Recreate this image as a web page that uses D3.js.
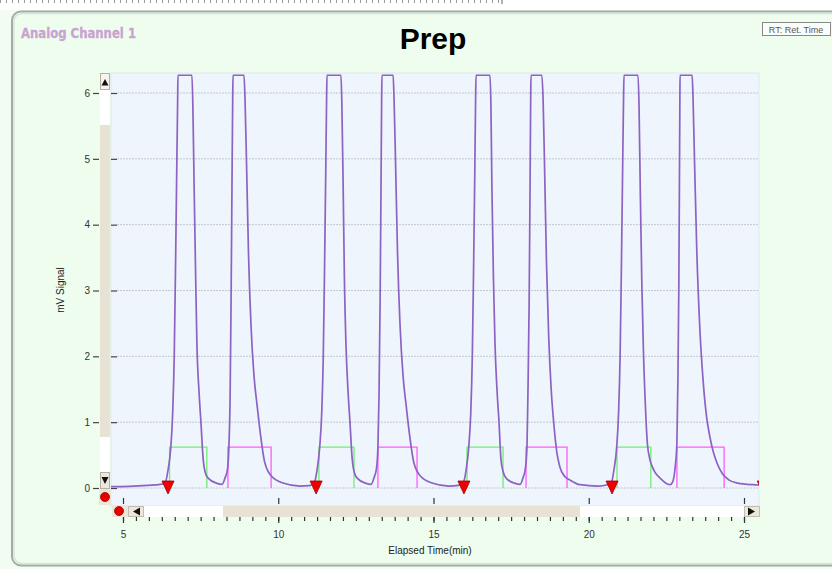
<!DOCTYPE html>
<html>
<head>
<meta charset="utf-8">
<script src="https://cdn.jsdelivr.net/npm/d3@7/dist/d3.min.js"></script>
<style>
  html, body { margin: 0; padding: 0; background: #f3fcf3; }
  svg { display: block; font-family: "Liberation Sans", Arial, sans-serif; }
</style>
</head>
<body>
<svg id="chart" width="832" height="569"></svg>
<script>
// Detector trace: [elapsed time (min), signal (mV)]
const signal = [
  [4.60,0.02],[5.20,0.025],[5.80,0.04],[6.20,0.055],
  [6.35,0.07],[6.45,0.27],[6.54,0.62],[6.60,1.14],[6.65,2.0],[6.69,3.3],[6.73,4.8],[6.76,5.9],[6.77,6.27],[7.22,6.27],
  [7.25,5.8],[7.29,4.6],[7.34,3.2],[7.38,2.2],[7.45,1.45],[7.51,1.0],[7.58,0.45],[7.64,0.25],[7.74,0.15],[8.03,0.07],[8.19,0.055],
  [8.285,0.15],[8.37,0.3],[8.41,0.62],[8.45,1.4],[8.48,2.8],[8.51,4.6],[8.533,5.9],[8.543,6.27],[8.897,6.27],
  [8.93,5.9],[8.98,4.9],[9.04,3.6],[9.12,2.5],[9.22,1.7],[9.32,1.25],[9.41,0.88],[9.57,0.38],[9.80,0.17],[10.15,0.076],[10.70,0.03],
  [11.00,0.035],
  [11.15,0.07],[11.25,0.27],[11.335,0.62],[11.40,1.14],[11.45,2.0],[11.49,3.3],[11.53,4.8],[11.557,5.9],[11.57,6.27],[12.02,6.27],
  [12.05,5.8],[12.09,4.6],[12.13,3.2],[12.18,2.2],[12.25,1.45],[12.31,1.0],[12.38,0.45],[12.44,0.25],[12.54,0.15],[12.83,0.07],[12.99,0.055],
  [13.08,0.15],[13.165,0.3],[13.21,0.62],[13.245,1.4],[13.28,2.8],[13.31,4.6],[13.33,5.9],[13.34,6.27],[13.70,6.27],
  [13.73,5.9],[13.78,4.9],[13.84,3.6],[13.92,2.5],[14.02,1.7],[14.12,1.25],[14.21,0.88],[14.37,0.38],[14.60,0.17],[14.95,0.076],[15.50,0.03],
  [15.80,0.04],
  [15.95,0.07],[16.05,0.27],[16.135,0.62],[16.20,1.14],[16.25,2.0],[16.29,3.3],[16.33,4.8],[16.356,5.9],[16.37,6.27],[16.82,6.27],
  [16.85,5.8],[16.88,4.6],[16.93,3.2],[16.98,2.2],[17.05,1.45],[17.11,1.0],[17.17,0.45],[17.24,0.25],[17.34,0.15],[17.63,0.07],[17.79,0.055],
  [17.88,0.15],[17.96,0.3],[18.01,0.62],[18.04,1.4],[18.08,2.8],[18.11,4.6],[18.13,5.9],[18.14,6.27],[18.49,6.27],
  [18.53,5.9],[18.58,4.8],[18.64,3.4],[18.71,2.3],[18.79,1.5],[18.88,0.95],[18.97,0.55],[19.07,0.32],[19.22,0.18],[19.40,0.12],[19.72,0.05],[20.30,0.03],
  [20.60,0.05],
  [20.72,0.07],[20.81,0.27],[20.90,0.62],[20.96,1.14],[21.01,2.0],[21.05,3.3],[21.09,4.8],[21.12,5.9],[21.135,6.27],[21.586,6.27],
  [21.62,5.8],[21.66,4.5],[21.71,3.1],[21.76,2.1],[21.82,1.3],[21.88,0.73],[21.96,0.45],[22.05,0.32],[22.13,0.24],[22.30,0.15],[22.50,0.07],[22.62,0.05],
  [22.70,0.09],[22.78,0.3],[22.84,0.7],[22.87,1.6],[22.90,3.0],[22.92,4.6],[22.935,5.9],[22.94,6.27],[23.33,6.27],
  [23.36,5.9],[23.41,4.9],[23.48,3.6],[23.57,2.5],[23.68,1.65],[23.79,1.1],[23.90,0.78],[24.01,0.55],[24.13,0.38],[24.30,0.22],[24.52,0.12],[24.80,0.075],[25.29,0.05],[25.50,0.045]
];

// Injection markers (min)
const injections = [6.45, 11.22, 15.98, 20.75, 25.62];

// Peak integration windows [start, end] (min)
const greenWindows   = [[6.50, 7.70], [11.31, 12.44], [16.08, 17.24], [20.91, 22.00]];
const magentaWindows = [[8.38, 9.77], [13.21, 14.47], [17.98, 19.30], [22.84, 24.36]];
const windowLevel = 0.62;

const xTickValues = [5, 10, 15, 20, 25];
const yTickValues = [0, 1, 2, 3, 4, 5, 6];

const chartTitle = "Prep";
const channelName = "Analog Channel 1";
const xTitle = "Elapsed Time(min)";
const yTitle = "mV Signal";
const legendText = "RT: Ret. Time";

const svg = d3.select("#chart");

// plot box
const plot = { left: 111, right: 759, top: 73, bottom: 506 };
const x = d3.scaleLinear().domain([5, 25]).range([123, 744]);
const y = d3.scaleLinear().domain([0, 6]).range([488, 93]);

// ---- panel frame ----
svg.append("rect").attr("x", 0).attr("y", 0).attr("width", 832).attr("height", 10).attr("fill", "#ffffff");
svg.append("line").attr("x1", 0).attr("x2", 500).attr("y1", 1.5).attr("y2", 1.5)
  .attr("stroke", "#9a9a9a").attr("stroke-width", 3).attr("stroke-dasharray", "1,5");
svg.append("line").attr("x1", 502).attr("x2", 502).attr("y1", 0).attr("y2", 4)
  .attr("stroke", "#999").attr("stroke-width", 1.5);

svg.append("rect").attr("x", 12).attr("y", 11.5).attr("width", 840).attr("height", 554).attr("rx", 9)
  .attr("fill", "#effdee").attr("stroke", "#a3aca3").attr("stroke-width", 2);
svg.append("rect").attr("x", 14).attr("y", 13.5).attr("width", 836).attr("height", 550).attr("rx", 8)
  .attr("fill", "none").attr("stroke", "#d9e4d9").attr("stroke-width", 1.5);

svg.append("text").attr("x", 21).attr("y", 38).text(channelName)
  .attr("font-family", "'DejaVu Sans Condensed', 'Liberation Sans Narrow', sans-serif")
  .attr("font-weight", "bold").attr("font-size", 14).attr("fill", "#c9a3d1")
  .attr("stroke", "#c9a3d1").attr("stroke-width", 0.3)
  .attr("textLength", 115).attr("lengthAdjust", "spacingAndGlyphs");

svg.append("text").attr("x", 433).attr("y", 49).attr("text-anchor", "middle")
  .attr("font-weight", "bold").attr("font-size", 30).attr("fill", "#000").text(chartTitle);

svg.append("rect").attr("x", 762.5).attr("y", 22.5).attr("width", 68).attr("height", 13)
  .attr("fill", "#fbfdfb").attr("stroke", "#888").attr("stroke-width", 1);
svg.append("text").attr("x", 796).attr("y", 32.5).attr("text-anchor", "middle")
  .attr("font-size", 9).attr("fill", "#555").text(legendText);

// ---- plot background ----
svg.append("rect").attr("x", plot.left).attr("y", plot.top)
  .attr("width", plot.right - plot.left).attr("height", plot.bottom - plot.top)
  .attr("fill", "#eef5fd").attr("stroke", "#dfe6ee").attr("stroke-width", 1);

svg.append("defs").append("clipPath").attr("id", "plotClip")
  .append("rect").attr("x", plot.left).attr("y", plot.top)
  .attr("width", plot.right - plot.left).attr("height", plot.bottom - plot.top);

// horizontal grid
svg.append("g").selectAll("line").data(yTickValues).join("line")
  .attr("x1", plot.left + 6).attr("x2", plot.right)
  .attr("y1", d => y(d)).attr("y2", d => y(d))
  .attr("stroke", "#c4c8cc").attr("stroke-width", 1).attr("stroke-dasharray", "2,1");

// ---- y axis: ticks on both sides of the vertical scrollbar ----
const yAxisOuter = svg.append("g").attr("transform", "translate(99,0)")
  .call(d3.axisLeft(y).tickValues(yTickValues).tickSize(6).tickPadding(3).tickFormat(d3.format("d")));
const yAxisInner = svg.append("g").attr("transform", `translate(${plot.left},0)`)
  .call(d3.axisRight(y).tickValues(yTickValues).tickSize(6).tickFormat(""));
[yAxisOuter, yAxisInner].forEach(g => {
  g.select(".domain").remove();
  g.selectAll(".tick line").attr("stroke", "#444").attr("stroke-width", 1.2);
});
yAxisOuter.selectAll("text").attr("font-size", 10).attr("fill", "#333")
  .attr("font-family", "'Liberation Sans', Arial, sans-serif");

svg.append("text").attr("transform", "translate(64,290) rotate(-90)")
  .attr("text-anchor", "middle").attr("font-size", 10).attr("fill", "#222").text(yTitle);

// ---- vertical scrollbar ----
const vs = svg.append("g");
vs.append("rect").attr("x", 100).attr("y", 73).attr("width", 10).attr("height", 416).attr("fill", "#e7e2d3");
vs.append("rect").attr("x", 100).attr("y", 90).attr("width", 10).attr("height", 35).attr("fill", "#ffffff");
vs.append("rect").attr("x", 100).attr("y", 437).attr("width", 10).attr("height", 35).attr("fill", "#ffffff");
vs.append("rect").attr("x", 100.5).attr("y", 73.5).attr("width", 9).attr("height", 16)
  .attr("fill", "#f6f4ee").attr("stroke", "#b5b0a2");
vs.append("path").attr("d", "M105,79 L108.5,85.5 L101.5,85.5 Z").attr("fill", "#111");
vs.append("rect").attr("x", 100.5).attr("y", 472.5).attr("width", 9).attr("height", 16)
  .attr("fill", "#ece7da").attr("stroke", "#b5b0a2");
vs.append("path").attr("d", "M101.5,477 L108.5,477 L105,484 Z").attr("fill", "#111");
vs.append("rect").attr("x", 99).attr("y", 489).attr("width", 12).attr("height", 16).attr("fill", "#ebe6d8");
vs.append("circle").attr("cx", 105).attr("cy", 497).attr("r", 4.5).attr("fill", "#e80000").attr("stroke", "#9a0000").attr("stroke-width", 0.8);

// ---- horizontal scrollbar ----
const hs = svg.append("g");
hs.append("rect").attr("x", 112).attr("y", 506).attr("width", 648).attr("height", 11).attr("fill", "#ffffff");
hs.append("rect").attr("x", 112).attr("y", 505).attr("width", 16).attr("height", 12).attr("fill", "#ebe6d8");
hs.append("circle").attr("cx", 119).attr("cy", 511).attr("r", 4.5).attr("fill", "#e80000").attr("stroke", "#9a0000").attr("stroke-width", 0.8);
hs.append("rect").attr("x", 128.5).attr("y", 506.5).attr("width", 15).attr("height", 10)
  .attr("fill", "#ece7da").attr("stroke", "#c2bdb0");
hs.append("path").attr("d", "M133,511.5 L140,507.5 L140,515.5 Z").attr("fill", "#111");
hs.append("rect").attr("x", 223).attr("y", 506).attr("width", 357).attr("height", 11).attr("fill", "#e7e2d3");
hs.append("rect").attr("x", 744.5).attr("y", 506.5).attr("width", 15).attr("height", 10)
  .attr("fill", "#ece7da").attr("stroke", "#c2bdb0");
hs.append("path").attr("d", "M755,511.5 L748,507.5 L748,515.5 Z").attr("fill", "#111");

// ---- x axis: major ticks above, major+minor below the horizontal scrollbar ----
const minorTicks = d3.range(0, 50).map(i => 5 + (i - 1) * 5 / 12).filter(v => x(v) >= 113 && x(v) <= 760);

const xTop = svg.append("g").attr("transform", "translate(0,498)")
  .call(d3.axisBottom(x).tickValues(xTickValues).tickSize(6).tickFormat(""));
const xMinor = svg.append("g").attr("transform", "translate(0,517)")
  .call(d3.axisBottom(x).tickValues(minorTicks).tickSize(4).tickFormat(""));
const xBottom = svg.append("g").attr("transform", "translate(0,517)")
  .call(d3.axisBottom(x).tickValues(xTickValues).tickSize(6).tickPadding(8).tickFormat(d3.format("d")));
[xTop, xMinor, xBottom].forEach(g => {
  g.select(".domain").remove();
  g.selectAll(".tick line").attr("stroke", "#333").attr("stroke-width", 1.2);
});
xBottom.selectAll("text").attr("font-size", 10).attr("fill", "#333")
  .attr("font-family", "'Liberation Sans', Arial, sans-serif");

svg.append("text").attr("x", 430).attr("y", 554).attr("text-anchor", "middle")
  .attr("font-size", 10).attr("fill", "#222").text(xTitle);

// ---- data layer ----
const data = svg.append("g").attr("clip-path", "url(#plotClip)");

const windowPath = ([a, b]) => {
  const p = d3.path();
  p.moveTo(x(a), y(0)); p.lineTo(x(a), y(windowLevel));
  p.lineTo(x(b), y(windowLevel)); p.lineTo(x(b), y(0));
  return p.toString();
};
data.append("g").selectAll("path").data(greenWindows).join("path")
  .attr("d", windowPath).attr("fill", "none").attr("stroke", "#6fef6f").attr("stroke-width", 1.3);
data.append("g").selectAll("path").data(magentaWindows).join("path")
  .attr("d", windowPath).attr("fill", "none").attr("stroke", "#ff5cff").attr("stroke-width", 1.3);

const line = d3.line().x(d => x(d[0])).y(d => y(d[1])).curve(d3.curveMonotoneX);
data.append("path").datum(signal).attr("d", line)
  .attr("fill", "none").attr("stroke", "#8c62c2").attr("stroke-width", 1.7).attr("stroke-linejoin", "round");

data.append("g").selectAll("path").data(injections).join("path")
  .attr("transform", d => `translate(${x(d)},${y(0)})`)
  .attr("d", "M-6,-7 L6,-7 L0,6 Z")
  .attr("fill", "#f00000").attr("stroke", "#a00000").attr("stroke-width", 0.8);
</script>
</body>
</html>
